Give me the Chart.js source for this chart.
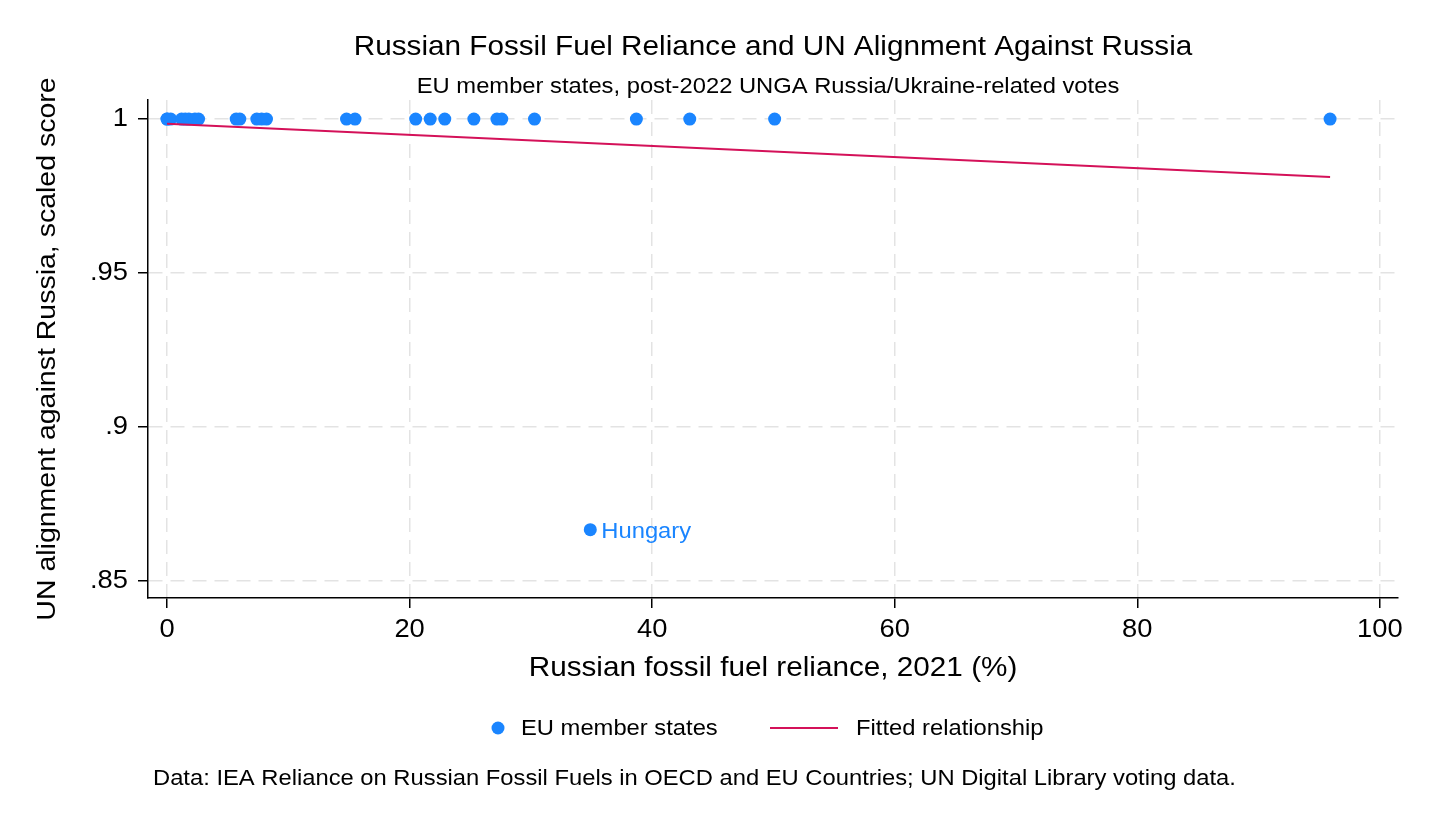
<!DOCTYPE html>
<html>
<head>
<meta charset="utf-8">
<script src="https://cdn.jsdelivr.net/npm/chart.js@4/dist/chart.umd.min.js"></script>
<style>
  html, body { margin: 0; padding: 0; background: #ffffff; }
  #wrap { width: 1430px; height: 831px; }
</style>
</head>
<body>
<div id="wrap"><canvas id="c" width="1430" height="831"></canvas></div>
<script>
// ---- Data ----
const relianceX = [0, 0, 0.3, 1.2, 1.5, 1.8, 2.3, 2.6, 5.7, 6.0, 7.4, 7.8, 8.2, 14.8, 15.5,
                   20.5, 21.7, 22.9, 25.3, 27.2, 27.6, 30.3, 34.9, 38.7, 43.1, 50.1, 95.9];
const alignmentY = [1, 1, 1, 1, 1, 1, 1, 1, 1, 1, 1, 1, 1, 1, 1,
                    1, 1, 1, 1, 1, 1, 1, 0.8667, 1, 1, 1, 1];
const labelledPoint = { index: 22, text: "Hungary" };
const xTickValues = [0, 20, 40, 60, 80, 100];
const yTickValues = [0.85, 0.9, 0.95, 1];
const yTickLabels = [".85", ".9", ".95", "1"];
const titleText = "Russian Fossil Fuel Reliance and UN Alignment Against Russia";
const subtitleText = "EU member states, post-2022 UNGA Russia/Ukraine-related votes";
const xTitleText = "Russian fossil fuel reliance, 2021 (%)";
const yTitleText = "UN alignment against Russia, scaled score";
const legendLabels = ["EU member states", "Fitted relationship"];
const noteText = "Data: IEA Reliance on Russian Fossil Fuels in OECD and EU Countries; UN Digital Library voting data.";

// ---- Fitted relationship (OLS of the plotted data) ----
const n = relianceX.length;
const mx = relianceX.reduce((a, b) => a + b, 0) / n;
const my = alignmentY.reduce((a, b) => a + b, 0) / n;
let sxy = 0, sxx = 0;
for (let i = 0; i < n; i++) { sxy += (relianceX[i] - mx) * (alignmentY[i] - my); sxx += (relianceX[i] - mx) ** 2; }
const slope = sxy / sxx, intercept = my - slope * mx;
const xMin = Math.min(...relianceX), xMax = Math.max(...relianceX);
const fitLine = [{ x: xMin, y: intercept + slope * xMin }, { x: xMax, y: intercept + slope * xMax }];

const BLUE = "#1a85ff", RED = "#d41159";
const FONT = "'Liberation Sans', Arial, Helvetica, sans-serif";
const STRETCH = 1.08;

const stretchPlugin = {
  id: "stretchText",
  beforeInit(chart) {
    const ctx = chart.ctx;
    const orig = ctx.fillText.bind(ctx);
    ctx.fillText = function (text, x, y, maxWidth) {
      ctx.save();
      ctx.translate(x, y);
      ctx.scale(STRETCH, 1);
      orig(text, 0, 0);
      ctx.restore();
    };
  }
};

const decorPlugin = {
  id: "decor",
  afterDraw(chart) {
    const ctx = chart.ctx;
    ctx.save();
    ctx.fillStyle = "#000";
    ctx.textBaseline = "middle";
    ctx.textAlign = "center";
    ctx.font = "27.5px " + FONT;
    ctx.fillText(titleText, 773, 47);
    ctx.font = "22px " + FONT;
    ctx.fillText(subtitleText, 768, 87);

    // Hungary label
    const meta = chart.getDatasetMeta(1);
    const el = meta.data[labelledPoint.index];
    ctx.textAlign = "left";
    ctx.fillStyle = BLUE;
    ctx.font = "22px " + FONT;
    ctx.fillText(labelledPoint.text, el.x + 11, el.y + 2);

    // legend
    ctx.fillStyle = BLUE;
    ctx.beginPath();
    ctx.arc(498, 728, 6.5, 0, Math.PI * 2);
    ctx.fill();
    ctx.fillStyle = "#000";
    ctx.font = "22px " + FONT;
    ctx.fillText(legendLabels[0], 521, 729);
    ctx.strokeStyle = RED;
    ctx.lineWidth = 2;
    ctx.beginPath();
    ctx.moveTo(770, 728);
    ctx.lineTo(838, 728);
    ctx.stroke();
    ctx.fillText(legendLabels[1], 856, 729);

    // note
    ctx.fillText(noteText, 153, 779);
    ctx.restore();
  }
};

const gridOpts = {
  color: "#e3e3e3",
  lineWidth: 1.5,
  drawTicks: true,
  tickLength: 10,
  tickColor: "#000",
  tickWidth: 1.5,
  tickBorderDash: []
};
const borderOpts = { display: true, color: "#000", width: 1.5, dash: [14, 8] };

new Chart(document.getElementById("c"), {
  type: "scatter",
  data: {
    datasets: [
      {
        type: "line",
        label: legendLabels[1],
        data: fitLine,
        borderColor: RED,
        borderWidth: 2,
        pointRadius: 0,
        fill: false,
        order: 1
      },
      {
        type: "scatter",
        label: legendLabels[0],
        data: relianceX.map((x, i) => ({ x: x, y: alignmentY[i] })),
        backgroundColor: BLUE,
        borderColor: BLUE,
        borderWidth: 0,
        pointRadius: 6.5,
        order: 2
      }
    ]
  },
  options: {
    responsive: false,
    animation: false,
    events: [],
    layout: { padding: { top: 100, left: 0, right: 32, bottom: 143 } },
    plugins: {
      legend: { display: false },
      title: { display: false },
      tooltip: { enabled: false }
    },
    scales: {
      x: {
        type: "linear",
        min: -1.57,
        max: 101.5,
        afterBuildTicks(scale) { scale.ticks = xTickValues.map(v => ({ value: v })); },
        afterFit(scale) { scale.height = 90; },
        ticks: {
          color: "#000",
          font: { family: FONT, size: 25.3 },
          padding: 7,
          maxRotation: 0,
          autoSkip: false,
          callback: (v) => String(v)
        },
        grid: gridOpts,
        border: borderOpts,
        title: {
          display: true,
          text: xTitleText,
          color: "#000",
          font: { family: FONT, size: 27.5 },
          padding: { top: 0, bottom: 3.5 }
        }
      },
      y: {
        type: "linear",
        min: 0.8445,
        max: 1.0062,
        afterBuildTicks(scale) { scale.ticks = yTickValues.map(v => ({ value: v })); },
        afterFit(scale) { scale.width = 148; },
        ticks: {
          color: "#000",
          font: { family: FONT, size: 25.3 },
          padding: 10,
          autoSkip: false,
          callback: (v) => { const i = yTickValues.findIndex(t => Math.abs(t - v) < 1e-9); return i >= 0 ? yTickLabels[i] : ""; }
        },
        grid: gridOpts,
        border: borderOpts,
        title: {
          display: true,
          text: yTitleText,
          color: "#000",
          font: { family: FONT, size: 26.4 },
          padding: { top: 32, bottom: 0 }
        }
      }
    }
  },
  plugins: [stretchPlugin, decorPlugin]
});
</script>
</body>
</html>
